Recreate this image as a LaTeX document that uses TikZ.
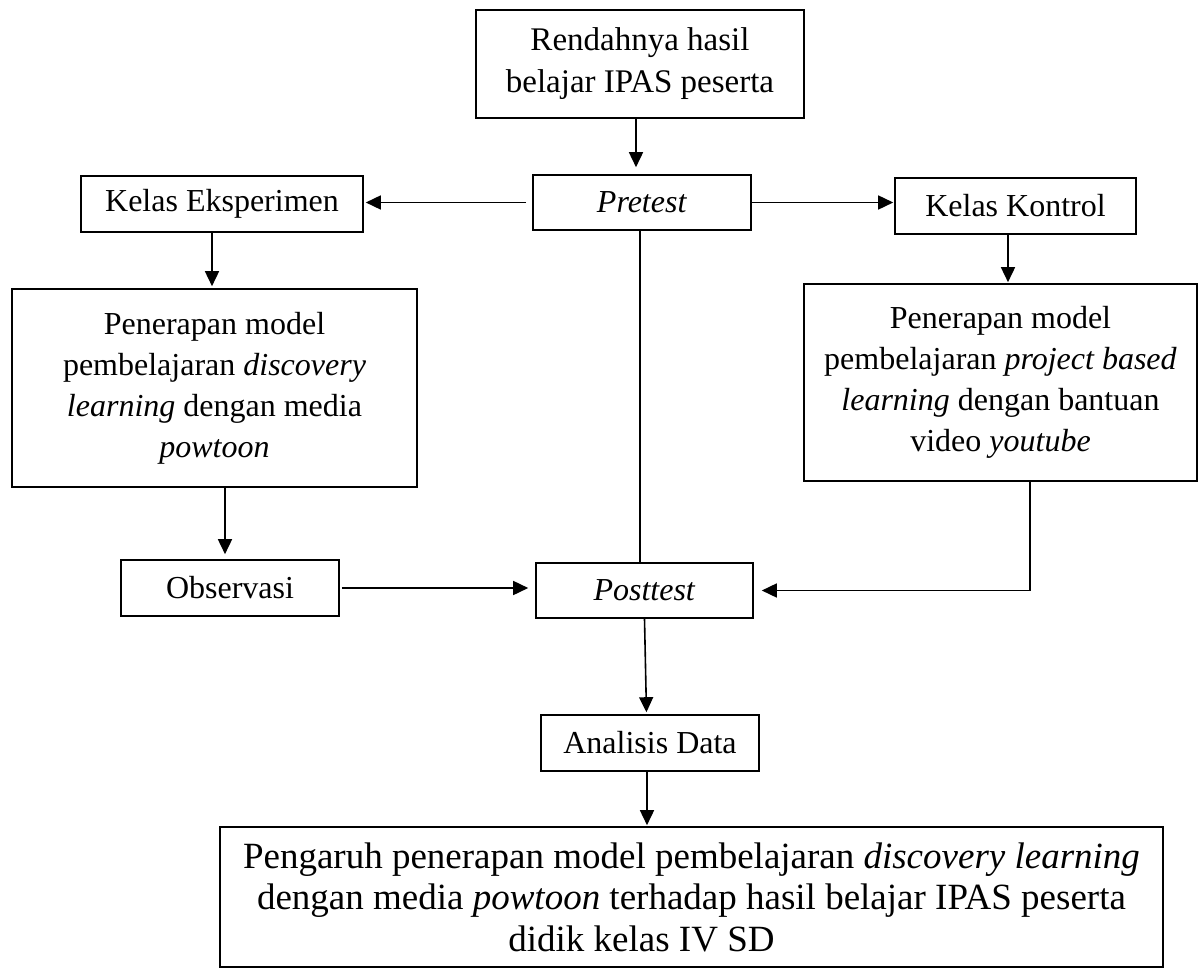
\documentclass[tikz,border=0pt]{standalone}
\usepackage{fontspec}
\setmainfont{Liberation Serif}
\usetikzlibrary{arrows.meta}
\begin{document}
\begin{tikzpicture}[x=0.5pt,y=-0.5pt,
  box/.style={draw, line width=0.8pt, inner sep=0pt, align=center,
    font=\fontsize{16}{20.5}\selectfont},
  bigbox/.style={box, font=\fontsize{18.5}{20.75}\selectfont},
  arr/.style={-{Triangle[length=7.5pt,width=7pt]}, line width=0.8pt},
  ln/.style={line width=0.8pt}]
\useasboundingbox (0,0) rectangle (1199,968);

\node[box, font=\fontsize{16.5}{21}\selectfont, minimum width=164pt, minimum height=54pt] (top) at (640,64)
  {Rendahnya hasil\\belajar IPAS peserta};
\node[box, minimum width=109pt, minimum height=27.5pt] (pre) at (642,202.5) {\textit{Pretest}};
\node[box, minimum width=141pt, minimum height=28pt] (ke) at (222,204) {Kelas Eksperimen};
\node[box, minimum width=120.5pt, minimum height=28pt] (kk) at (1015.5,206) {Kelas Kontrol};
\node[box, minimum width=202.5pt, minimum height=99pt] (pl) at (214.5,388)
  {Penerapan model\\pembelajaran \textit{discovery}\\\textit{learning} dengan media\\\textit{powtoon}};
\node[box, minimum width=196.5pt, minimum height=98.5pt] (pr) at (1000.5,382.5)
  {Penerapan model\\pembelajaran \textit{project based}\\\textit{learning} dengan bantuan\\video \textit{youtube}};
\node[box, minimum width=109pt, minimum height=28pt] (obs) at (230,588) {Observasi};
\node[box, minimum width=108.5pt, minimum height=27.5pt] (post) at (644.5,590.5) {\textit{Posttest}};
\node[box, minimum width=109pt, minimum height=28pt] (ana) at (650,743) {Analisis Data};
\node[bigbox, minimum width=471.5pt, minimum height=70pt] (fin) at (691.5,897)
  {Pengaruh penerapan model pembelajaran \textit{discovery learning}\\dengan media \textit{powtoon} terhadap hasil belajar IPAS peserta\\didik kelas IV SD\hspace*{50pt}};

\draw[arr, shorten >=3.5pt] ([xshift=-2pt]top.south) -- ([xshift=-2pt]top.south |- pre.north);
\draw[arr, shorten <=3pt, shorten >=1pt] (pre.west) -- (pre.west -| ke.east);
\draw[arr, shorten >=0.5pt] (pre.east) -- (pre.east -| kk.west);
\draw[arr, shorten >=1pt] ([xshift=-5pt]ke.south) -- ([xshift=-5pt]ke.south |- pl.north);
\draw[arr, shorten >=0.5pt] ([xshift=-3.75pt]kk.south) -- ([xshift=-3.75pt]kk.south |- pr.north);
\draw[arr, shorten >=2.5pt] ([xshift=-2.5pt]obs.north |- pl.south) -- ([xshift=-2.5pt]obs.north);
\draw[arr, shorten <=1pt, shorten >=3.5pt] (obs.east) -- (obs.east -| post.west);
\draw[ln] ([xshift=-1pt]pre.south) -- ([xshift=-1pt]pre.south |- post.north);
\draw[arr, shorten >=4pt] ([xshift=14.75pt]pr.south) |- (post.east);
\draw[arr, shorten >=1pt] (post.south) -- ([xshift=1pt]post.south |- ana.north);
\draw[arr, shorten >=0.5pt] ([xshift=-1.5pt]ana.south) -- ([xshift=-1.5pt]ana.south |- fin.north);
\end{tikzpicture}
\end{document}
